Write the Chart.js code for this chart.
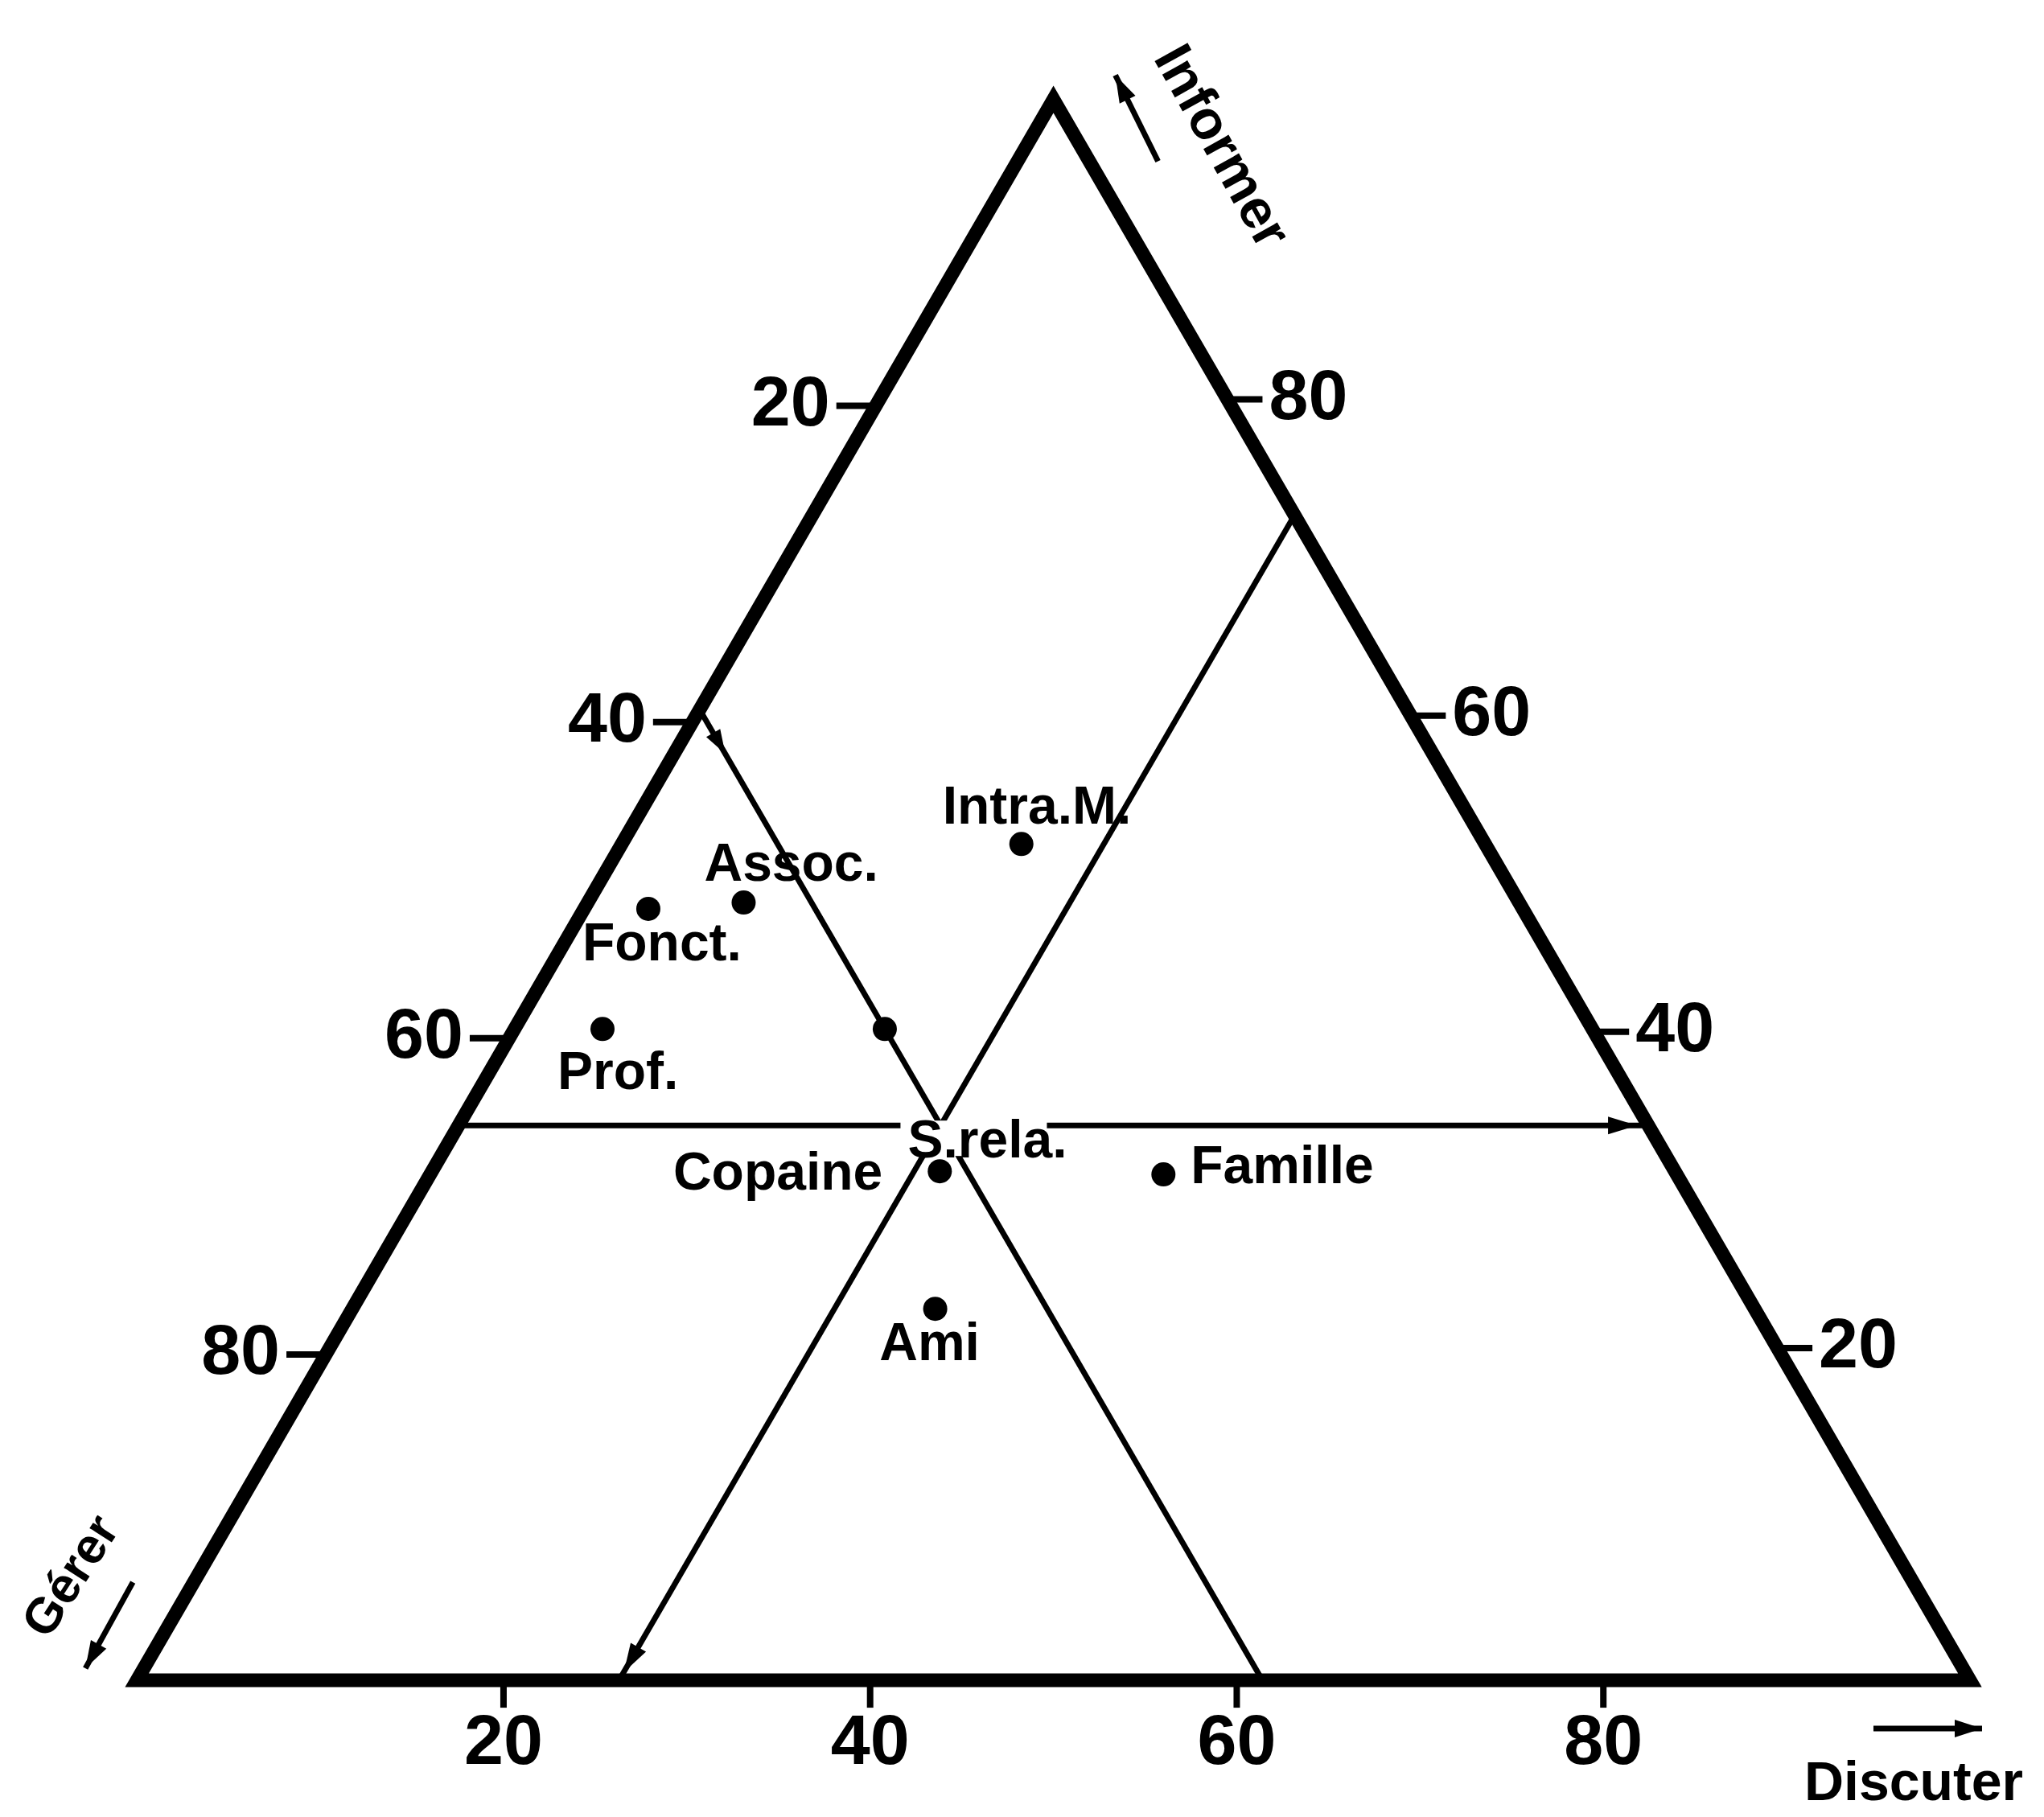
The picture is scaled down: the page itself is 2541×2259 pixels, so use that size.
<!DOCTYPE html>
<html>
<head>
<meta charset="utf-8">
<script src="https://cdn.jsdelivr.net/npm/chart.js@4.4.1/dist/chart.umd.min.js"></script>
<style>
  html, body { margin: 0; padding: 0; background: #fff; }
  canvas { display: block; }
</style>
</head>
<body>
<canvas id="chart" width="2541" height="2259"></canvas>
<script>
// groups placed in the triangle (percentages)
const groups   = ["Intra.M.", "Assoc.", "Fonct.", "Prof.", "Copaine", "Famille", "Ami"];
const informer = [52.9, 49.2, 48.8, 41.2, 32.2, 32.0, 23.5];
const gerer    = [25.3, 42.3, 47.7, 54.0, 40.1, 28.0, 44.7];
const discuter = [21.8,  8.5,  3.5,  4.8, 27.7, 40.0, 31.8];

// mean profile, where the three guide lines cross
const meanLabel = "S.rela.";
const meanInformer = 35.1;
const meanGerer = 38.6;
const meanDiscuter = 26.3;

// marks on the Gérer guide line, given as Informer %
const gererArrowAt = 58.6;
const gererDotAt = 41.2;

const tickValues = [20, 40, 60, 80];
const titles = { informer: "Informer", gerer: "Gérer", discuter: "Discuter" };

// ternary -> cartesian (x along the base, y = Informer height)
function toXY(i, g, d) {
  const t = i + g + d;
  return { x: (d + i / 2) * 100 / t, y: i * 100 / t };
}

// where each label sits relative to its dot (pixels)
const labelPlace = {
  "Intra.M.": { dx: -98, dy: -44, align: "left" },
  "Assoc.":   { dx: -49, dy: -45, align: "left" },
  "Fonct.":   { dx: -82, dy: 46, align: "left" },
  "Prof.":    { dx: -56, dy: 57, align: "left" },
  "Copaine":  { dx: -71, dy: 5, align: "right" },
  "Famille":  { dx: 34, dy: -7, align: "left" },
  "Ami":      { dx: -7, dy: 46, align: "center" },
};

const FONT = "'Liberation Sans', Arial, sans-serif";

function arrowHead(ctx, x, y, ang, len, half) {
  ctx.beginPath();
  ctx.moveTo(x, y);
  ctx.lineTo(x - len * Math.cos(ang) + half * Math.sin(ang), y - len * Math.sin(ang) - half * Math.cos(ang));
  ctx.lineTo(x - len * Math.cos(ang) - half * Math.sin(ang), y - len * Math.sin(ang) + half * Math.cos(ang));
  ctx.closePath();
  ctx.fill();
}

function arrowLine(ctx, x0, y0, x1, y1) {
  ctx.lineWidth = 7;
  ctx.beginPath();
  ctx.moveTo(x0, y0);
  ctx.lineTo(x1, y1);
  ctx.stroke();
  arrowHead(ctx, x1, y1, Math.atan2(y1 - y0, x1 - x0), 34, 11);
}

const decor = {
  id: "decor",
  afterDatasetsDraw(chart) {
    const { ctx, scales: { x, y } } = chart;
    const P = (i, g, d) => {
      const p = toXY(i, g, d);
      return [x.getPixelForValue(p.x), y.getPixelForValue(p.y)];
    };
    ctx.save();
    ctx.fillStyle = "#000";
    ctx.strokeStyle = "#000";
    ctx.lineCap = "butt";

    // ticks + tick labels
    ctx.font = "bold 88px " + FONT;
    ctx.lineWidth = 8;
    tickValues.forEach(v => {
      // left side: Gérer
      let [tx, ty] = P(100 - v, v, 0);
      ctx.beginPath(); ctx.moveTo(tx - 42, ty - 12); ctx.lineTo(tx + 7, ty - 12); ctx.stroke();
      ctx.textAlign = "right"; ctx.textBaseline = "middle";
      ctx.fillText(String(v), tx - 50, ty - 12);
      // right side: Informer
      [tx, ty] = P(v, 0, 100 - v);
      ctx.beginPath(); ctx.moveTo(tx - 11, ty - 20); ctx.lineTo(tx + 32, ty - 20); ctx.stroke();
      ctx.textAlign = "left";
      ctx.fillText(String(v), tx + 40, ty - 20);
      // bottom: Discuter
      [tx, ty] = P(0, 100 - v, v);
      ctx.beginPath(); ctx.moveTo(tx, ty); ctx.lineTo(tx, ty + 34); ctx.stroke();
      ctx.textAlign = "center";
      ctx.fillText(String(v), tx, ty + 80);
    });

    // arrows on guide lines
    let a = P(meanInformer, 100 - meanInformer, 0), b = P(meanInformer, 0, 100 - meanInformer);
    arrowHead(ctx, b[0] - 14, b[1], 0, 36, 11);
    a = P(100 - meanDiscuter, 0, meanDiscuter); b = P(0, 100 - meanDiscuter, meanDiscuter);
    arrowHead(ctx, b[0] + 6, b[1] - 10, Math.atan2(b[1] - a[1], b[0] - a[0]), 36, 11);
    a = P(100 - meanGerer, meanGerer, 0); b = P(0, meanGerer, 100 - meanGerer);
    const m = P(gererArrowAt, meanGerer, 100 - meanGerer - gererArrowAt);
    arrowHead(ctx, m[0], m[1], Math.atan2(b[1] - a[1], b[0] - a[0]), 30, 10);

    // point labels
    ctx.font = "bold 66px " + FONT;
    ctx.textBaseline = "middle";
    groups.forEach((name, k) => {
      const [px, py] = P(informer[k], gerer[k], discuter[k]);
      const s = labelPlace[name];
      ctx.textAlign = s.align;
      ctx.fillText(name, px + s.dx, py + s.dy);
    });

    // mean label with a white knockout over the guide lines
    const [mx, my] = P(meanInformer, meanGerer, meanDiscuter);
    ctx.fillStyle = "#fff";
    ctx.fillRect(mx - 50, my - 6, 182, 44);
    ctx.fillStyle = "#000";
    ctx.textAlign = "left";
    ctx.fillText(meanLabel, mx - 41, my + 22);

    // axis titles with their arrows
    const [lx, ly] = P(0, 100, 0);
    const [rx, ry] = P(0, 0, 100);
    const [tx, ty] = P(100, 0, 0);
    ctx.font = "bold 68px " + FONT;
    ctx.textAlign = "center";
    ctx.fillText(titles.discuter, rx - 70, ry + 130);
    arrowLine(ctx, rx - 120, ry + 60, rx + 15, ry + 60);

    ctx.save();
    ctx.translate(tx + 207, ty + 60);
    ctx.rotate(61 * Math.PI / 180);
    ctx.fillText(titles.informer, 0, 0);
    ctx.restore();
    arrowLine(ctx, tx + 130, ty + 77, tx + 77, ty - 30);

    ctx.save();
    ctx.font = "bold 62px " + FONT;
    ctx.translate(lx - 80, ly - 128);
    ctx.rotate(-57 * Math.PI / 180);
    ctx.fillText(titles.gerer, 0, 0);
    ctx.restore();
    arrowLine(ctx, lx - 5, ly - 122, lx - 64, ly - 15);

    ctx.restore();
  }
};

const lineStyle = { showLine: true, borderColor: "#000", pointRadius: 0, fill: false, borderJoinStyle: "miter" };

new Chart(document.getElementById("chart"), {
  type: "scatter",
  data: {
    datasets: [
      // outer triangle (first side repeated so the corner gets a join)
      Object.assign({ data: [toXY(0, 100, 0), toXY(0, 0, 100), toXY(100, 0, 0), toXY(0, 100, 0), toXY(0, 0, 100)], borderWidth: 17 }, lineStyle),
      // guide lines through the mean
      Object.assign({ data: [toXY(meanInformer, 100 - meanInformer, 0), toXY(meanInformer, 0, 100 - meanInformer)], borderWidth: 7 }, lineStyle),
      Object.assign({ data: [toXY(100 - meanGerer, meanGerer, 0), toXY(0, meanGerer, 100 - meanGerer)], borderWidth: 7 }, lineStyle),
      Object.assign({ data: [toXY(100 - meanDiscuter, 0, meanDiscuter), toXY(0, 100 - meanDiscuter, meanDiscuter)], borderWidth: 7 }, lineStyle),
      {
        data: groups.map((g, k) => toXY(informer[k], gerer[k], discuter[k]))
          .concat([toXY(gererDotAt, meanGerer, 100 - meanGerer - gererDotAt)]),
        pointRadius: 15,
        backgroundColor: "#000",
        borderWidth: 0,
        showLine: false,
      },
    ],
  },
  options: {
    responsive: false,
    animation: false,
    devicePixelRatio: 1,
    layout: { padding: 0 },
    scales: {
      x: { type: "linear", min: -6.81, max: 103.38, display: false },
      y: { type: "linear", min: -7.88, max: 105.52, display: false },
    },
    plugins: { legend: { display: false }, tooltip: { enabled: false } },
  },
  plugins: [decor],
});
</script>
</body>
</html>
